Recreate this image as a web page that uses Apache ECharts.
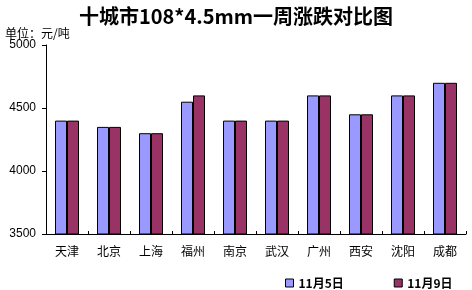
<!DOCTYPE html>
<html><head><meta charset="utf-8">
<script src="https://cdn.jsdelivr.net/npm/echarts@6/dist/echarts.min.js"></script>
<style>html,body{margin:0;padding:0;background:#fff}#c{width:472px;height:290px}</style>
</head><body><div id="c"></div>
<script>
const categories = ['天津','北京','上海','福州','南京','武汉','广州','西安','沈阳','成都'];
const nov5 = [4400,4350,4300,4550,4400,4400,4600,4450,4600,4700];
const nov9 = [4400,4350,4300,4600,4400,4400,4600,4450,4600,4700];
const seriesNames = ['11月5日','11月9日'];
const yTicks = {min:3500, max:5000, interval:500};

const chart = echarts.init(document.getElementById('c'));
chart.setOption({
  animation:false,
  backgroundColor:'#fff',
  title:[
    {text:'十城市108*4.5mm一周涨跌对比图', left:'center', top:1,
     textStyle:{fontFamily:'Noto Sans CJK SC', fontWeight:'bold', fontSize:20, color:'#000'}},
    {text:'单位：元/吨', left:0, top:22,
     textStyle:{fontFamily:'Noto Sans CJK SC', fontWeight:'normal', fontSize:12, color:'#000'}}
  ],
  legend:{data:seriesNames, left:285, top:275, padding:0, itemWidth:8, itemHeight:8, itemGap:50,
    icon:'rect',
    itemStyle:{borderColor:'#000', borderWidth:1},
    textStyle:{fontFamily:'Noto Sans CJK SC', fontWeight:'bold', fontSize:12, lineHeight:16, color:'#000'}},
  grid:{left:46, right:6, top:45, bottom:56},
  xAxis:{type:'category', data:categories,
    axisLine:{lineStyle:{color:'#000', width:1}},
    axisTick:{show:true, inside:true, length:3, lineStyle:{color:'#000'}},
    axisLabel:{fontFamily:'Noto Sans CJK SC', fontSize:12, color:'#000', margin:11}},
  yAxis:{type:'value', min:yTicks.min, max:yTicks.max, interval:yTicks.interval,
    splitLine:{show:false},
    axisLine:{show:true, lineStyle:{color:'#000', width:1}},
    axisTick:{show:true, length:4, lineStyle:{color:'#000'}},
    axisLabel:{fontFamily:'Arial, Liberation Sans', fontSize:12, color:'#000', margin:10,
      formatter:v => String(v)}},
  series:[
    {name:seriesNames[0], type:'bar', data:nov5, barWidth:12, barGap:'0%',
     itemStyle:{color:'#9999FF', borderColor:'#000', borderWidth:1}},
    {name:seriesNames[1], type:'bar', data:nov9, barWidth:12,
     itemStyle:{color:'#993366', borderColor:'#000', borderWidth:1}}
  ]
});
</script></body></html>
